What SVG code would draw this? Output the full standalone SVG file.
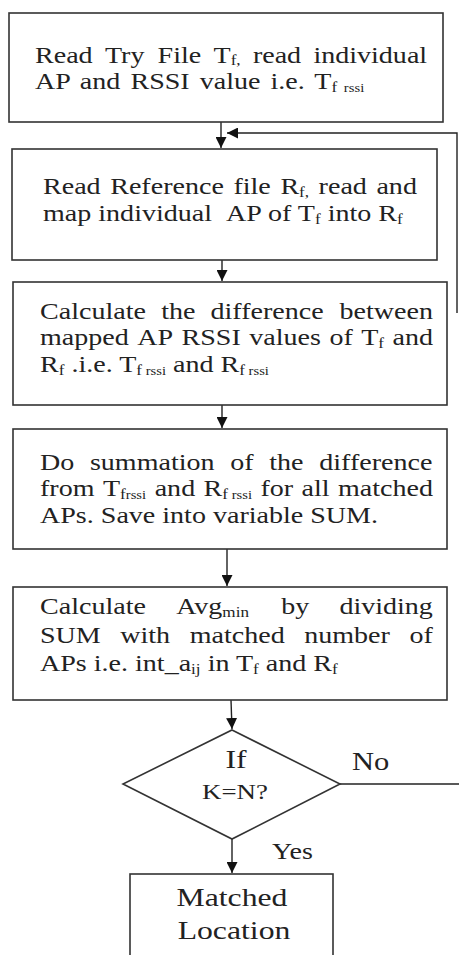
<svg xmlns="http://www.w3.org/2000/svg" width="459" height="955" viewBox="0 0 459 955">
<defs>
<style>
.box{fill:#fff;stroke:#333;stroke-width:1.6}
.ln{fill:none;stroke:#222;stroke-width:1.4}
.s{font-size:14px}
.ss{font-size:12px}
.c{text-anchor:middle}
</style>
<marker id="ah" viewBox="0 0 10 10" refX="10" refY="5" markerWidth="11" markerHeight="11" markerUnits="userSpaceOnUse" orient="auto">
<path d="M0,0 L10,5 L0,10 z" fill="#111"/>
</marker>
</defs>
<rect width="459" height="955" fill="#fff"/>

<g id="connectors">
<line class="ln" x1="221" y1="122" x2="221" y2="148" marker-end="url(#ah)"/>
<polyline class="ln" points="457,313 457,133 227,133" marker-end="url(#ah)"/>
<line class="ln" x1="222" y1="260" x2="222" y2="281" marker-end="url(#ah)"/>
<line class="ln" x1="222" y1="405" x2="222" y2="428" marker-end="url(#ah)"/>
<line class="ln" x1="227" y1="549" x2="227" y2="586" marker-end="url(#ah)"/>
<line class="ln" x1="231" y1="700" x2="232" y2="729" marker-end="url(#ah)"/>
<line class="ln" x1="340" y1="784" x2="459" y2="784"/>
<line class="ln" x1="232" y1="839" x2="232" y2="873" marker-end="url(#ah)"/>
<g font-family="Liberation Serif, serif" fill="#222">
<text font-size="25" transform="translate(352,770) scale(1.22,1)">No</text>
<text font-size="23" transform="translate(272,859) scale(1.22,1)">Yes</text>
</g>
</g>

<g font-family="Liberation Serif, serif" font-size="23" fill="#222">
<g id="n1">
<rect class="box" x="9" y="13" width="434" height="109"/>
<text transform="translate(35,63) scale(1.22,1)"><tspan x="0">Read</tspan><tspan x="57.3">Try</tspan><tspan x="100.5">File</tspan><tspan x="146.3">T</tspan><tspan class="s" dy="2">f,</tspan><tspan x="178.6" dy="-2">read</tspan><tspan x="228.2">individual</tspan></text>
<text transform="translate(35,89) scale(1.22,1)" word-spacing="2.5">AP and RSSI value i.e. T<tspan class="s" dy="3">f</tspan><tspan class="ss"> rssi</tspan></text>
</g>

<g id="n2">
<rect class="box" x="12" y="149" width="425" height="111"/>
<text transform="translate(43,194) scale(1.22,1)"><tspan x="0">Read</tspan><tspan x="55.1">Reference</tspan><tspan x="156.1">file</tspan><tspan x="194.6">R</tspan><tspan class="s" dy="3">f,</tspan><tspan x="225.9" dy="-3">read</tspan><tspan x="273.3">and</tspan></text>
<text transform="translate(43,221) scale(1.22,1)"><tspan x="0">map individual</tspan><tspan x="150.1">AP of T</tspan><tspan class="s" dy="3">f</tspan><tspan dy="-3"> into R</tspan><tspan class="s" dy="3">f</tspan></text>
</g>

<g id="n3">
<rect class="box" x="13" y="282" width="434" height="123"/>
<text transform="translate(40,319) scale(1.22,1)"><tspan x="0">Calculate</tspan><tspan x="99.3">the</tspan><tspan x="139.8">difference</tspan><tspan x="245.5">between</tspan></text>
<text transform="translate(40,345) scale(1.22,1)"><tspan x="0">mapped</tspan><tspan x="79.7">AP</tspan><tspan x="116">RSSI</tspan><tspan x="171.5">values</tspan><tspan x="237.2">of</tspan><tspan x="263.3">T</tspan><tspan class="s" dy="3">f</tspan><tspan x="288.9" dy="-3">and</tspan></text>
<text transform="translate(40,372) scale(1.22,1)">R<tspan class="s" dy="3">f</tspan><tspan dy="-3"> .i.e. T</tspan><tspan class="s" dy="3">f</tspan><tspan class="ss"> rssi</tspan><tspan dy="-3"> and R</tspan><tspan class="s" dy="3">f</tspan><tspan class="ss"> rssi</tspan></text>
</g>

<g id="n4">
<rect class="box" x="13" y="429" width="434" height="120"/>
<text transform="translate(40,470) scale(1.22,1)"><tspan x="0">Do</tspan><tspan x="40.9">summation</tspan><tspan x="155.9">of</tspan><tspan x="187.9">the</tspan><tspan x="228.9">difference</tspan></text>
<text transform="translate(40,496) scale(1.22,1)"><tspan x="0">from</tspan><tspan x="51.6">T</tspan><tspan class="s" dy="3">f</tspan><tspan class="ss">rssi</tspan><tspan x="94" dy="-3">and</tspan><tspan x="134.1">R</tspan><tspan class="s" dy="3">f</tspan><tspan class="ss"> rssi</tspan><tspan x="180.7" dy="-3">for</tspan><tspan x="214.4">all</tspan><tspan x="244.3">matched</tspan></text>
<text transform="translate(40,523) scale(1.22,1)">APs. Save into variable SUM.</text>
</g>

<g id="n5">
<rect class="box" x="13" y="587" width="434" height="113"/>
<text transform="translate(40,614) scale(1.22,1)"><tspan x="0">Calculate</tspan><tspan x="111.6">Avg</tspan><tspan class="s" dy="3">min</tspan><tspan x="197.7" dy="-3">by</tspan><tspan x="245.4">dividing</tspan></text>
<text transform="translate(40,643) scale(1.22,1)"><tspan x="0">SUM</tspan><tspan x="65.8">with</tspan><tspan x="122.7">matched</tspan><tspan x="216.6">number</tspan><tspan x="302.9">of</tspan></text>
<text transform="translate(40,671) scale(1.22,1)">APs i.e. int_a<tspan class="s" dy="3">ij</tspan><tspan dy="-3"> in T</tspan><tspan class="s" dy="3">f</tspan><tspan dy="-3"> and R</tspan><tspan class="s" dy="3">f</tspan></text>
</g>

<g id="n6">
<polygon class="box" points="232,730 340,784 232,839 123,784"/>
<text class="c" font-size="26" transform="translate(236,768) scale(1.22,1)">If</text>
<text class="c" font-size="22" transform="translate(235,799) scale(1.22,1)">K=N?</text>
</g>

<g id="n7">
<rect class="box" x="130" y="874" width="203" height="100"/>
<text class="c" font-size="26" transform="translate(232,906) scale(1.22,1)">Matched</text>
<text class="c" font-size="26" transform="translate(234,939) scale(1.22,1)">Location</text>
</g>
</g>
</svg>
